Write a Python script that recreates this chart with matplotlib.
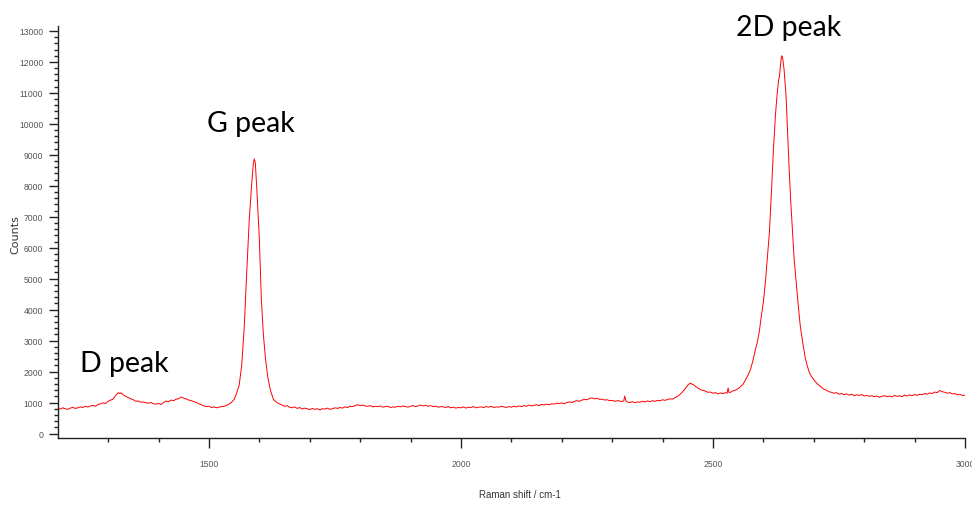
import matplotlib
matplotlib.use("Agg")
import matplotlib.pyplot as plt
from matplotlib.ticker import MultipleLocator, FixedLocator

# Raman spectrum (rows of shift and counts match)
raman_shift = [
    1200, 1205, 1210, 1215, 1220, 1225, 1230, 1235, 1240, 1245, 1250, 1255, 1260, 1265, 1270,
    1275, 1280, 1285, 1290, 1295, 1300, 1305, 1310, 1315, 1318, 1320, 1323, 1326, 1330, 1335,
    1340, 1345, 1350, 1355, 1360, 1365, 1370, 1375, 1380, 1385, 1390, 1395, 1400, 1405, 1410,
    1415, 1420, 1425, 1430, 1435, 1440, 1445, 1450, 1455, 1460, 1465, 1470, 1475, 1480, 1485,
    1490, 1495, 1500, 1505, 1510, 1515, 1520, 1525, 1530, 1535, 1540, 1545, 1550, 1555, 1560,
    1565, 1570, 1575, 1580, 1585, 1588, 1590, 1592, 1595, 1600, 1604, 1608, 1612, 1617, 1622,
    1628, 1632, 1636, 1640, 1645, 1650, 1655, 1660, 1665, 1670, 1675, 1680, 1685, 1690, 1695,
    1700, 1705, 1710, 1715, 1720, 1725, 1730, 1735, 1740, 1745, 1750, 1755, 1760, 1765, 1770,
    1775, 1780, 1785, 1790, 1795, 1800, 1805, 1810, 1815, 1820, 1825, 1830, 1835, 1840, 1845,
    1850, 1855, 1860, 1865, 1870, 1875, 1880, 1885, 1890, 1895, 1900, 1905, 1910, 1915, 1920,
    1925, 1930, 1935, 1940, 1945, 1950, 1955, 1960, 1965, 1970, 1975, 1980, 1985, 1990, 1995,
    2000, 2005, 2010, 2015, 2020, 2025, 2030, 2035, 2040, 2045, 2050, 2055, 2060, 2065, 2070,
    2075, 2080, 2085, 2090, 2095, 2100, 2105, 2110, 2115, 2120, 2125, 2130, 2135, 2140, 2145,
    2150, 2155, 2160, 2165, 2170, 2175, 2180, 2185, 2190, 2195, 2200, 2205, 2210, 2215, 2220,
    2225, 2230, 2235, 2240, 2245, 2250, 2255, 2260, 2265, 2270, 2275, 2280, 2285, 2290, 2295,
    2300, 2305, 2310, 2315, 2320, 2323, 2325, 2327, 2330, 2335, 2340, 2345, 2350, 2355, 2360,
    2365, 2370, 2375, 2380, 2385, 2390, 2395, 2400, 2405, 2410, 2415, 2420, 2425, 2430, 2435,
    2440, 2445, 2450, 2455, 2458, 2462, 2466, 2470, 2475, 2480, 2485, 2490, 2495, 2500, 2505,
    2510, 2515, 2520, 2525, 2528, 2530, 2532, 2536, 2540, 2545, 2550, 2555, 2560, 2565, 2570,
    2575, 2580, 2584, 2588, 2592, 2596, 2600, 2604, 2608, 2612, 2616, 2620, 2624, 2627, 2630,
    2632, 2634, 2636, 2638, 2641, 2645, 2648, 2651, 2654, 2658, 2661, 2665, 2668, 2673, 2678,
    2683, 2687, 2691, 2695, 2700, 2705, 2710, 2715, 2720, 2725, 2730, 2735, 2740, 2745, 2750,
    2755, 2760, 2765, 2770, 2775, 2780, 2785, 2790, 2795, 2800, 2805, 2810, 2815, 2820, 2825,
    2830, 2835, 2840, 2845, 2850, 2855, 2860, 2865, 2870, 2875, 2880, 2885, 2890, 2895, 2900,
    2905, 2910, 2915, 2920, 2925, 2930, 2935, 2940, 2945, 2950, 2955, 2960, 2965, 2970, 2975,
    2980, 2985, 2990, 2995, 3000,
]
counts = [
    810, 790, 830, 800, 780, 820, 845, 810, 830, 860, 840, 880, 855, 890, 910,
    880, 940, 960, 990, 970, 1040, 1080, 1110, 1230, 1280, 1320, 1290, 1310, 1250, 1200,
    1160, 1120, 1090, 1040, 1050, 1010, 1020, 990, 980, 1000, 960, 950, 970, 940, 1000,
    1050, 1030, 1080, 1060, 1110, 1120, 1180, 1140, 1120, 1080, 1060, 1030, 1000, 960, 930,
    890, 870, 880, 840, 860, 830, 850, 870, 880, 910, 950, 1010, 1100, 1300, 1560,
    2200, 3400, 5200, 6900, 8100, 8700, 8870, 8750, 7900, 6300, 4350, 3200, 2450, 1800, 1400,
    1100, 1040, 990, 960, 920, 880, 900, 850, 830, 860, 810, 840, 790, 820, 800,
    770, 810, 780, 800, 760, 800, 790, 820, 780, 800, 830, 810, 840, 820, 860,
    840, 880, 870, 900, 930, 900, 920, 890, 880, 900, 860, 880, 870, 890, 850,
    870, 880, 840, 860, 850, 880, 860, 890, 870, 850, 880, 900, 870, 890, 920,
    890, 910, 880, 900, 870, 880, 850, 870, 860, 840, 870, 830, 850, 820, 840,
    830, 860, 820, 850, 840, 870, 830, 850, 860, 840, 870, 850, 880, 840, 860,
    850, 880, 860, 840, 870, 850, 880, 860, 890, 870, 900, 880, 920, 890, 910,
    930, 900, 940, 920, 950, 930, 960, 950, 980, 970, 990, 960, 1000, 1020, 1000,
    1040, 1060, 1040, 1080, 1100, 1090, 1130, 1150, 1120, 1140, 1100, 1110, 1080, 1090, 1060,
    1070, 1040, 1060, 1050, 1030, 1060, 1210, 1060, 1020, 1000, 1030, 990, 1020, 1010, 1040,
    1020, 1050, 1030, 1060, 1040, 1070, 1060, 1090, 1070, 1100, 1120, 1110, 1160, 1200, 1270,
    1350, 1450, 1560, 1630, 1600, 1570, 1510, 1470, 1420, 1390, 1370, 1330, 1340, 1300, 1320,
    1280, 1310, 1290, 1320, 1300, 1470, 1320, 1340, 1380, 1400, 1450, 1520, 1600, 1740, 1900,
    2100, 2400, 2700, 2950, 3300, 3800, 4250, 4900, 5700, 6500, 7800, 9190, 10300, 10900, 11400,
    11550, 11900, 12200, 12150, 11770, 10900, 9730, 8600, 7575, 6500, 5640, 4900, 4344, 3500, 2945,
    2450, 2190, 1980, 1850, 1740, 1640, 1560, 1500, 1430, 1400, 1350, 1330, 1300, 1320, 1270,
    1290, 1250, 1280, 1240, 1270, 1220, 1250, 1230, 1260, 1210, 1230, 1200, 1220, 1190, 1210,
    1170, 1200, 1220, 1190, 1210, 1180, 1230, 1200, 1220, 1190, 1240, 1210, 1250, 1220, 1260,
    1230, 1270, 1250, 1290, 1270, 1310, 1290, 1340, 1320, 1390, 1350, 1330, 1300, 1320, 1280,
    1290, 1250, 1260, 1230, 1240,
]
assert len(raman_shift) == len(counts)

x_major = [1500, 2000, 2500, 3000]
x_minor = [1300, 1400, 1600, 1700, 1800, 1900, 2100, 2200, 2300, 2400, 2600, 2700, 2800, 2900]

peak_labels = ["D peak", "G peak", "2D peak"]
peak_label_px = [(80, 364), (207, 124), (736, 28)]  # left edge, vertical centre (pixels)

W, H = 972, 506
PT = 72 / 100  # points per pixel at dpi 100
fig = plt.figure(figsize=(W / 100, H / 100), dpi=100)
ax = fig.add_axes([57.7 / W, 1 - 439 / H, (965 - 57.7) / W, (439 - 27) / H])

ax.plot(raman_shift, counts, color="#ff0000", lw=0.7)

ax.set_xlim(1200, 3000)
ax.set_ylim(-145, 13160)

for s in ("top", "right"):
    ax.spines[s].set_visible(False)
for s in ("left", "bottom"):
    ax.spines[s].set_color("#222222")
    ax.spines[s].set_linewidth(1.0)

ax.xaxis.set_major_locator(FixedLocator(x_major))
ax.xaxis.set_minor_locator(FixedLocator(x_minor))
ax.yaxis.set_major_locator(MultipleLocator(1000))
ax.yaxis.set_minor_locator(MultipleLocator(200))

tick_font = ["Liberation Sans Narrow", "Liberation Sans"]
ax.tick_params(axis="x", which="major", length=10 * PT, width=1, color="#222222",
               pad=11 * PT, labelsize=6.2, labelcolor="#555555")
ax.tick_params(axis="x", which="minor", length=4 * PT, width=1, color="#222222")
ax.tick_params(axis="y", which="major", length=9 * PT, width=1, color="#222222",
               pad=5.5 * PT, labelsize=6.2, labelcolor="#555555")
ax.tick_params(axis="y", which="minor", length=4.5 * PT, width=1, color="#222222")
for lab in ax.get_xticklabels() + ax.get_yticklabels():
    lab.set_family(tick_font)

fig.text(520 / W, 1 - 495 / H, "Raman shift / cm-1", ha="center", va="center",
         fontsize=7, color="#333333", family=tick_font)
fig.text(15 / W, 1 - 235 / H, "Counts", ha="center", va="center", rotation=90,
         fontsize=8, color="#333333", family=["DejaVu Sans"])

for label, (px, py) in zip(peak_labels, peak_label_px):
    fig.text(px / W, 1 - py / H, label, ha="left", va="center", fontsize=20.5,
             color="black", family=["Lato", "DejaVu Sans"])

fig.savefig("out.png", dpi=100)
